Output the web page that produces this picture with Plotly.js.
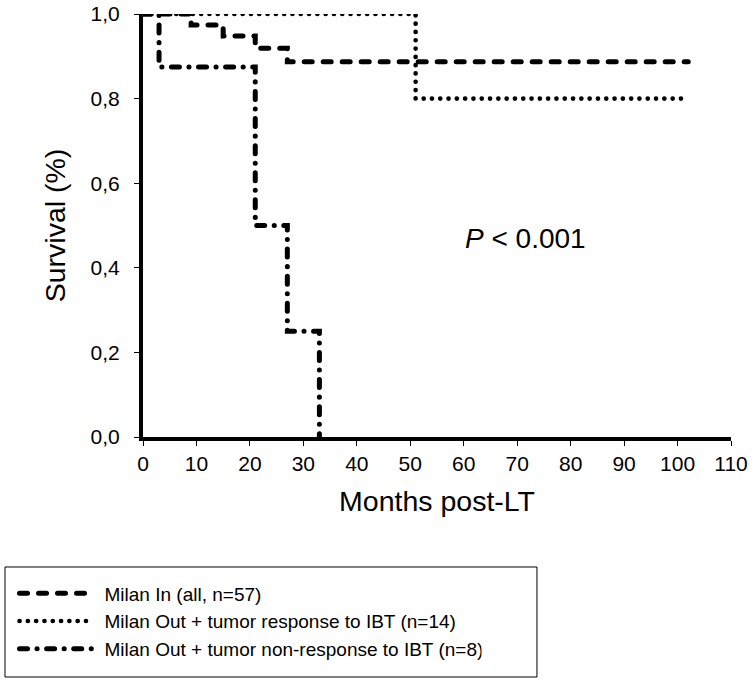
<!DOCTYPE html>
<html>
<head>
<meta charset="utf-8">
<script src="https://cdn.plot.ly/plotly-3.0.1.min.js"></script>
<style>
html,body{margin:0;padding:0;background:#fff;}
#chart path.js-line{stroke-linecap:round;}
#chart .legend text.legendtext{transform:translateX(7px);}
</style>
</head>
<body>
<div id="chart" style="width:755px;height:683px;"></div>
<script>
// Kaplan-Meier step data (months post-LT, survival fraction)
const milanInMonths = [0, 9, 15, 21, 27, 102];
const milanInSurv   = [1.0, 0.974, 0.948, 0.919, 0.887, 0.887];

const respMonths = [0, 51, 102];
const respSurv   = [1.0, 0.8, 0.8];

const nonRespMonths = [0, 3, 21, 27, 33];
const nonRespSurv   = [1.0, 0.875, 0.5, 0.25, 0.0];

const seriesNames = [
  "Milan In (all, n=57)",
  "Milan Out + tumor response to IBT (n=14)",
  "Milan Out + tumor non-response to IBT (n=8)"
];

const xTickVals = [0,10,20,30,40,50,60,70,80,90,100,110];
const yTickVals = [0, 0.2, 0.4, 0.6, 0.8, 1.0];
const yTickText = ["0,0","0,2","0,4","0,6","0,8","1,0"];

const FONT = "Liberation Sans, Arial, Helvetica, sans-serif";

const traces = [
  {x: milanInMonths, y: milanInSurv, name: seriesNames[0], legendgroup: "a",
   mode: "lines", line: {shape: "hv", color: "#000", width: 5, dash: "8px,11px"}},
  {x: respMonths, y: respSurv, name: seriesNames[1], legendgroup: "b",
   mode: "lines", line: {shape: "hv", color: "#000", width: 4.6, dash: "0.1px,8.2px"}},
  {x: nonRespMonths, y: nonRespSurv, name: seriesNames[2], legendgroup: "c",
   mode: "lines", line: {shape: "hv", color: "#000", width: 5, dash: "8px,9.5px,0.1px,9.5px"}}
];

const layout = {
  width: 755, height: 683,
  margin: {l: 143, r: 24, t: 14, b: 246},
  paper_bgcolor: "#fff", plot_bgcolor: "#fff",
  font: {family: FONT, color: "#000", size: 19},
  showlegend: true,
  legend: {
    x: -0.2185, y: -0.325, xanchor: "left", yanchor: "top",
    itemwidth: 73, font: {family: FONT, size: 19, color: "#000"},
    traceorder: "grouped", tracegroupgap: 0,
    bgcolor: "rgba(0,0,0,0)", borderwidth: 0
  },
  xaxis: {
    range: [0, 110], tickvals: xTickVals, ticks: "outside", ticklen: 5, tickwidth: 1,
    tickcolor: "#000", showline: true, linewidth: 4, linecolor: "#000",
    showgrid: false, zeroline: false, tickfont: {size: 21},
    title: {text: "Months post-LT", font: {size: 28.5}, standoff: 18}
  },
  yaxis: {
    range: [0, 1], tickvals: yTickVals, ticktext: yTickText, ticks: "outside",
    ticklen: 5, tickwidth: 1, tickcolor: "#000", showline: true, linewidth: 4,
    linecolor: "#000", showgrid: false, zeroline: false, tickfont: {size: 21},
    ticklabelstandoff: 10,
    title: {text: "Survival (%)", font: {size: 28.5}, standoff: 18}
  },
  shapes: [
    {type: "rect", xref: "paper", yref: "paper",
     x0: -0.2347, x1: 0.670, y0: -0.5674, y1: -0.3073,
     line: {color: "#000", width: 1}, fillcolor: "rgba(0,0,0,0)"}
  ],
  annotations: [
    {xref: "x", yref: "y", x: 71.6, y: 0.47, text: "<i>P</i> < 0.001",
     showarrow: false, font: {size: 28, family: FONT}}
  ]
};

Plotly.newPlot("chart", traces, layout, {displayModeBar: false, staticPlot: true});
</script>
</body>
</html>
